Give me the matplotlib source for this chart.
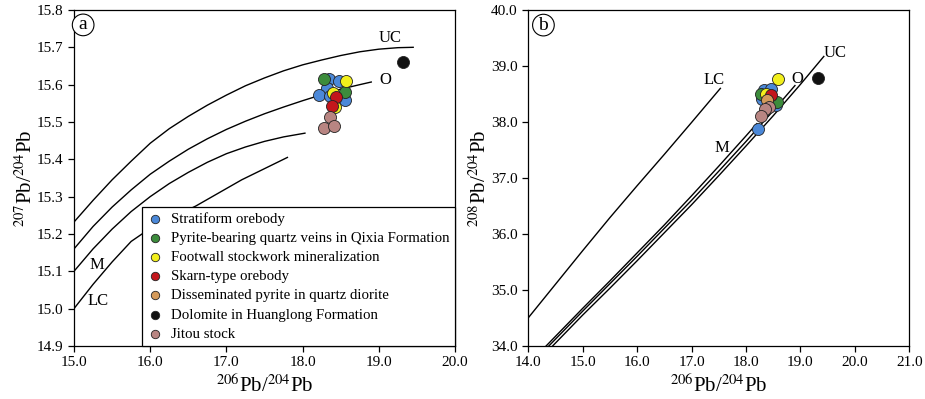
import matplotlib
matplotlib.use('Agg')
import matplotlib.pyplot as plt

plt.rcParams['font.family'] = ['Liberation Serif', 'DejaVu Serif']
plt.rcParams['mathtext.fontset'] = 'stix'

# Grupos de amostras
grupos = ['Stratiform orebody',
          'Pyrite-bearing quartz veins in Qixia Formation',
          'Footwall stockwork mineralization',
          'Skarn-type orebody',
          'Disseminated pyrite in quartz diorite',
          'Dolomite in Huanglong Formation',
          'Jitou stock']
cores = ['#4b88d8', '#3c8c3c', '#f2ef1c', '#c3161c', '#d49a5a', '#111111', '#b88582']

# 206Pb/204Pb e 207Pb/204Pb (painel a)
a_x = [[18.35, 18.48, 18.32, 18.22, 18.55, 18.36],
       [18.28, 18.56],
       [18.57, 18.40, 18.42],
       [18.44, 18.38],
       [],
       [19.32],
       [18.36, 18.28, 18.41]]
a_y = [[15.615, 15.61, 15.59, 15.572, 15.559, 15.57],
       [15.615, 15.579],
       [15.611, 15.577, 15.541],
       [15.566, 15.544],
       [],
       [15.66],
       [15.512, 15.484, 15.488]]

# 206Pb/204Pb e 208Pb/204Pb (painel b)
b_x = [[18.34, 18.46, 18.30, 18.56, 18.22],
       [18.28, 18.57],
       [18.58, 18.37],
       [18.46],
       [18.39],
       [19.33],
       [18.42, 18.35, 18.28]]
b_y = [[38.57, 38.58, 38.41, 38.31, 37.88],
       [38.50, 38.36],
       [38.76, 38.50],
       [38.49],
       [38.39],
       [38.78],
       [38.26, 38.24, 38.10]]

# Curvas de evolucao (Zartman & Doe) - painel a
uc_a_x = [15.0, 15.25, 15.5, 15.75, 16.0, 16.25, 16.5, 16.75, 17.0, 17.25,
          17.5, 17.75, 18.0, 18.25, 18.5, 18.75, 19.0, 19.25, 19.45]
uc_a_y = [15.232, 15.29, 15.345, 15.395, 15.443, 15.482, 15.515, 15.545, 15.572, 15.597,
          15.618, 15.637, 15.653, 15.666, 15.678, 15.688, 15.695, 15.699, 15.70]
o_a_x = [15.0, 15.25, 15.5, 15.75, 16.0, 16.25, 16.5, 16.75, 17.0, 17.25,
         17.5, 17.75, 18.0, 18.25, 18.5, 18.75, 18.9]
o_a_y = [15.16, 15.22, 15.272, 15.318, 15.36, 15.395, 15.427, 15.455, 15.48, 15.502,
         15.522, 15.54, 15.557, 15.573, 15.588, 15.60, 15.607]
m_a_x = [15.0, 15.25, 15.5, 15.75, 16.0, 16.25, 16.5, 16.75, 17.0, 17.25, 17.5, 17.75, 18.03]
m_a_y = [15.10, 15.16, 15.213, 15.26, 15.30, 15.335, 15.365, 15.392, 15.415, 15.433, 15.448, 15.46, 15.47]
lc_a_x = [15.0, 15.25, 15.5, 15.75, 16.0, 16.3, 16.6, 16.9, 17.2, 17.5, 17.8]
lc_a_y = [15.0, 15.065, 15.125, 15.18, 15.215, 15.245, 15.275, 15.31, 15.345, 15.375, 15.405]

# Curvas de evolucao - painel b
lc_b_x = [14.0, 14.5, 15.0, 15.5, 16.0, 16.5, 17.0, 17.53]
lc_b_y = [34.5, 35.1, 35.7, 36.29, 36.86, 37.42, 37.99, 38.6]
m_b_x = [14.33, 14.7, 15.0, 15.5, 16.0, 16.5, 17.0, 17.5, 18.0, 18.2]
m_b_y = [34.0, 34.37, 34.67, 35.16, 35.66, 36.16, 36.68, 37.21, 37.75, 37.97]
o_b_x = [14.38, 14.7, 15.0, 15.5, 16.0, 16.5, 17.0, 17.5, 18.0, 18.5, 18.9]
o_b_y = [34.0, 34.32, 34.62, 35.11, 35.6, 36.1, 36.6, 37.12, 37.65, 38.2, 38.65]
uc_b_x = [14.45, 14.7, 15.0, 15.5, 16.0, 16.5, 17.0, 17.5, 18.0, 18.5, 19.0, 19.43]
uc_b_y = [34.0, 34.25, 34.55, 35.03, 35.52, 36.02, 36.52, 37.04, 37.57, 38.11, 38.67, 39.17]

fig = plt.figure(figsize=(9.25, 3.99), dpi=100)
ax1 = fig.add_axes([0.080, 0.133, 0.412, 0.842])
ax2 = fig.add_axes([0.571, 0.133, 0.412, 0.842])

def estilo(ax):
    for s in ax.spines.values():
        s.set_linewidth(0.9)
    ax.tick_params(direction='out', length=4, width=0.9, labelsize=11,
                   top=False, right=False)

# Painel a
for xs, ys in [(uc_a_x, uc_a_y), (o_a_x, o_a_y), (m_a_x, m_a_y), (lc_a_x, lc_a_y)]:
    ax1.plot(xs, ys, color='black', lw=1.0, zorder=1)
for i in range(len(grupos)):
    ax1.scatter(a_x[i], a_y[i], s=75, c=cores[i], edgecolors='#222222',
                linewidths=0.6, zorder=3, label=grupos[i])
ax1.set_xlim(15, 20)
ax1.set_ylim(14.9, 15.8)
ax1.set_xticks([15, 16, 17, 18, 19, 20])
ax1.set_yticks([14.9, 15.0, 15.1, 15.2, 15.3, 15.4, 15.5, 15.6, 15.7, 15.8])
ax1.xaxis.set_major_formatter('{x:.1f}')
ax1.yaxis.set_major_formatter('{x:.1f}')
ax1.set_xlabel(r'$^{206}$Pb/$^{204}$Pb', fontsize=15, labelpad=4)
ax1.set_ylabel(r'$^{207}$Pb/$^{204}$Pb', fontsize=15, labelpad=0)
estilo(ax1)
ax1.text(19.15, 15.726, 'UC', fontsize=12, ha='center', va='center')
ax1.text(19.0, 15.612, 'O', fontsize=12, ha='left', va='center')
ax1.text(15.3, 15.117, 'M', fontsize=12, ha='center', va='center')
ax1.text(15.31, 15.021, 'LC', fontsize=12, ha='center', va='center')
ax1.text(15.12, 15.76, 'a', fontsize=14, ha='center', va='center',
         bbox=dict(boxstyle='circle,pad=0.12', fc='white', ec='black', lw=0.8))

leg = ax1.legend(loc='lower right', bbox_to_anchor=(1.0, 0.0), borderaxespad=0,
                 fontsize=10.7, frameon=True, fancybox=False, edgecolor='black',
                 framealpha=1, markerscale=0.7, handlelength=1.0,
                 handletextpad=0.6, labelspacing=0.39, borderpad=0.35)
leg.get_frame().set_linewidth(0.9)
leg.set_zorder(5)

# Painel b
for xs, ys in [(lc_b_x, lc_b_y), (m_b_x, m_b_y), (o_b_x, o_b_y), (uc_b_x, uc_b_y)]:
    ax2.plot(xs, ys, color='black', lw=1.0, zorder=1)
for i in range(len(grupos)):
    ax2.scatter(b_x[i], b_y[i], s=75, c=cores[i], edgecolors='#222222',
                linewidths=0.6, zorder=3)
ax2.set_xlim(14, 21)
ax2.set_ylim(34, 40)
ax2.set_xticks([14, 15, 16, 17, 18, 19, 20, 21])
ax2.set_yticks([34, 35, 36, 37, 38, 39, 40])
ax2.xaxis.set_major_formatter('{x:.1f}')
ax2.yaxis.set_major_formatter('{x:.1f}')
ax2.set_xlabel(r'$^{206}$Pb/$^{204}$Pb', fontsize=15, labelpad=4)
ax2.set_ylabel(r'$^{208}$Pb/$^{204}$Pb', fontsize=15, labelpad=0)
estilo(ax2)
ax2.text(17.41, 38.75, 'LC', fontsize=12, ha='center', va='center')
ax2.text(18.94, 38.76, 'O', fontsize=12, ha='center', va='center')
ax2.text(19.64, 39.23, 'UC', fontsize=12, ha='center', va='center')
ax2.text(17.56, 37.53, 'M', fontsize=12, ha='center', va='center')
ax2.text(14.28, 39.73, 'b', fontsize=14, ha='center', va='center',
         bbox=dict(boxstyle='circle,pad=0.12', fc='white', ec='black', lw=0.8))

fig.savefig('out.png', dpi=100)
